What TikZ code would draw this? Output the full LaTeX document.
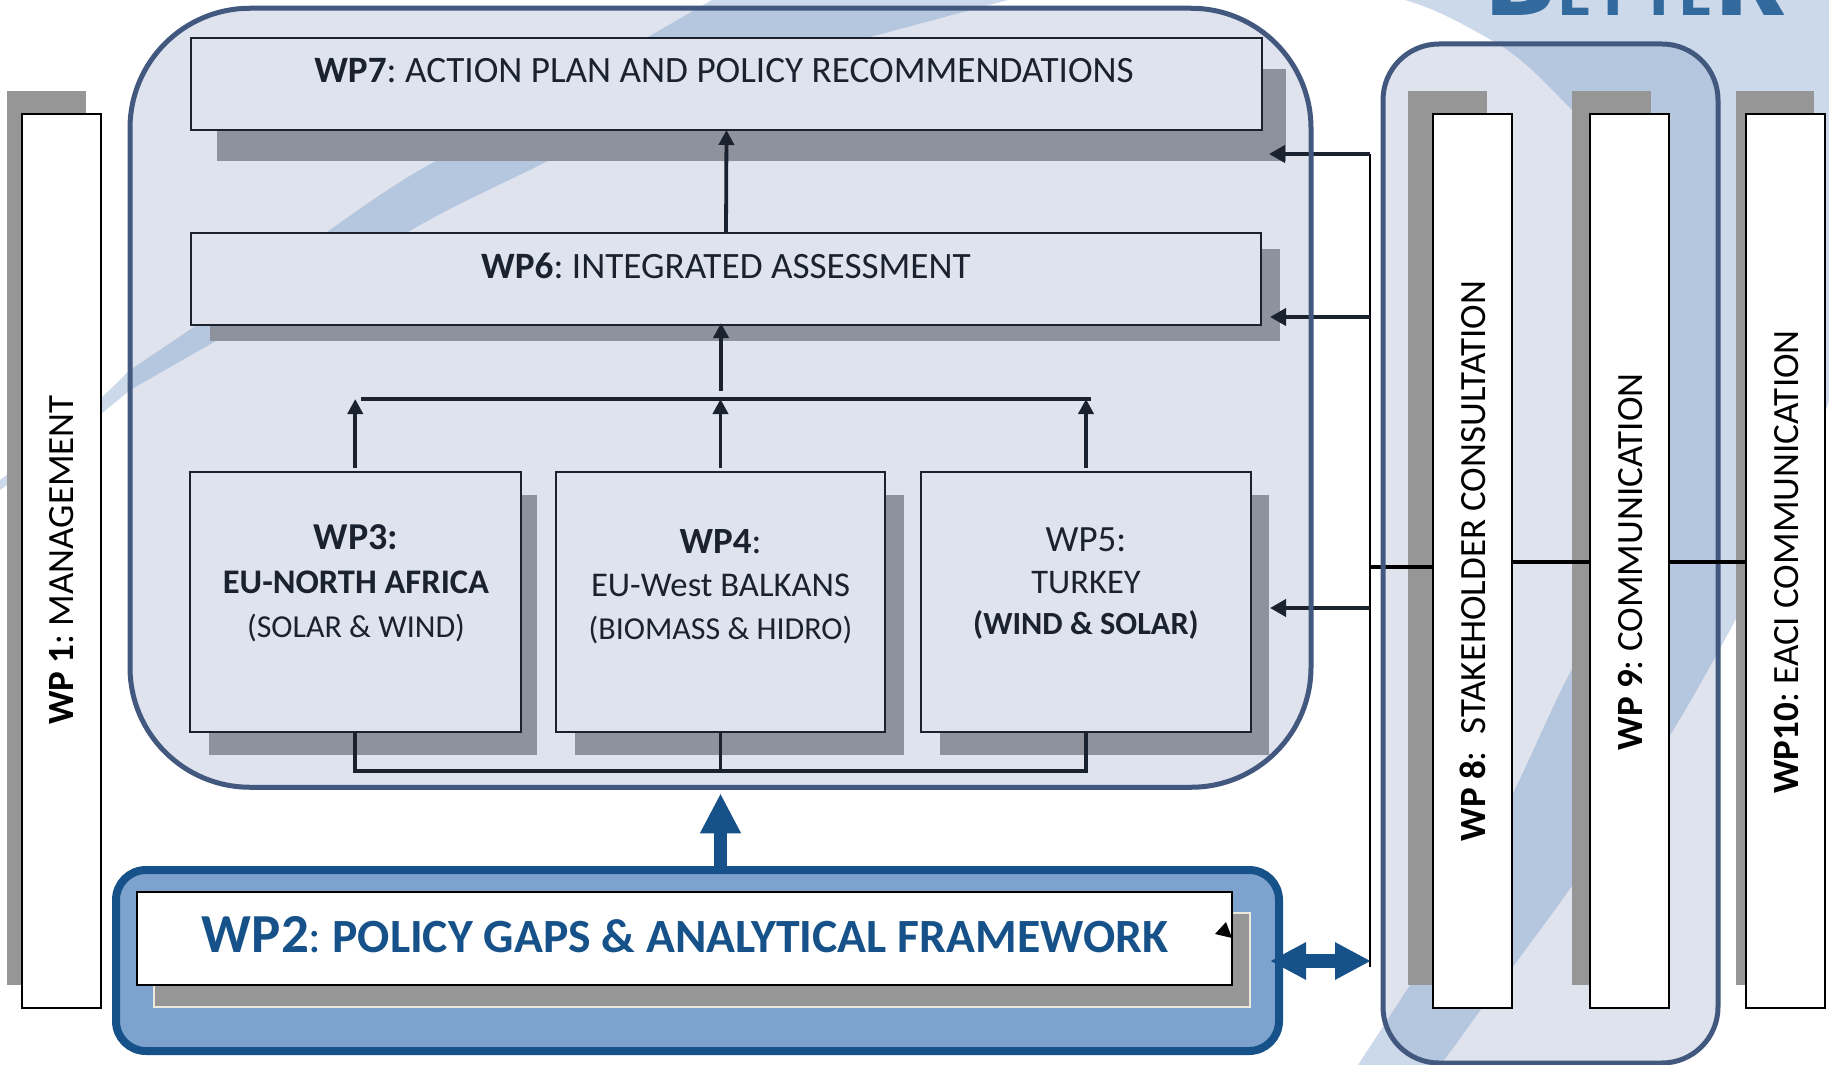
\documentclass[tikz,border=0pt]{standalone}
\usepackage{fontspec}
\setmainfont{Carlito}
\newfontfamily\logofont{Fira Sans}
\usetikzlibrary{arrows.meta}
\definecolor{bgl}{HTML}{CCD9EA}
\definecolor{bgd}{HTML}{B5C6DF}
\definecolor{panel}{HTML}{DFE3EE}
\definecolor{rim}{HTML}{43587F}
\definecolor{shadowcol}{HTML}{8E929C}
\definecolor{graysh}{HTML}{969696}
\definecolor{ink}{HTML}{1A2230}
\definecolor{navy}{HTML}{165289}
\definecolor{wpfill}{HTML}{7EA2CE}
\definecolor{logoc}{HTML}{336A9E}
\newcommand{\fs}[2]{\fontsize{#1}{#2}\selectfont}
\tikzset{
  x=1pt,y=-1pt,
  every node/.style={inner sep=0pt,outer sep=0pt},
  panelbox/.style={draw=ink,line width=2pt,fill=panel},
  whitebox/.style={draw=black,line width=2pt,fill=white},
  conn/.style={draw=ink,line width=3.8pt},
  arr/.style={conn,-{Triangle[length=15pt,width=15pt]}},
  blk/.style={draw=black,line width=3.5pt},
  blkarr/.style={blk,-{Triangle[length=16pt,width=17pt]},draw=ink,line width=3.8pt},
  inktext/.style={text=ink,align=center},
  vtext/.style={text=black,rotate=90},
}
\begin{document}
\frenchspacing
\begin{tikzpicture}
\useasboundingbox (0,0) rectangle (1829,1065);
\fill[white] (0,0) rectangle (1829,1065);
% background shapes, light
\def\bandpath{(0,480) .. controls (50,445) and (90,410) .. (130,370) -- (194,327) .. controls (240,295) and (285,262) .. (327,232) .. controls (365,205) and (400,180) .. (436,161) -- (648,37) -- (712,0) -- (1008,0) -- (870,37) .. controls (760,78) and (650,110) .. (548,161) .. controls (500,185) and (450,207) .. (408,232) -- (214,342) -- (130,390) .. controls (85,428) and (40,462) .. (0,490) -- cycle}
\def\cresc{(1405,0) .. controls (1440,10) and (1470,28) .. (1503,47) .. controls (1530,65) and (1550,88) .. (1572,110) .. controls (1620,170) and (1650,290) .. (1645,390) .. controls (1640,480) and (1610,590) .. (1572,669) .. controls (1550,710) and (1530,760) .. (1512,795) .. controls (1480,860) and (1440,920) .. (1410,985) -- (1358,1065) -- (1440,1065) .. controls (1460,1040) and (1490,995) .. (1512,968) .. controls (1540,930) and (1555,910) .. (1572,886) .. controls (1610,830) and (1640,785) .. (1669,737) .. controls (1695,695) and (1725,640) .. (1747,598) .. controls (1775,550) and (1805,480) .. (1829,400) -- (1829,0) -- cycle}
\fill[bgl] \bandpath;
\fill[bgl] \cresc;
% logo
\begin{scope}
\clip (0,0) rectangle (1829,1065);
\node[anchor=base west,text=logoc] (logo) at (1485,16) {\logofont\bfseries\fs{112}{112}B\hspace{4pt}\fs{62}{62}E\hspace{6pt}T\hspace{12pt}T\hspace{4pt}E\hspace{3pt}\fs{112}{112}R};
\end{scope}
% container panels
\node[fill=panel,rounded corners=120pt,minimum width=1181pt,minimum height=779pt] (main) at (720.5,397.75) {};
\node[fill=panel,rounded corners=56pt,minimum width=335pt,minimum height=1019pt] (right) at (1550.5,553.5) {};
\begin{scope}
\clip[rounded corners=120pt] (130,8.5) rectangle (1311,787);
\fill[bgd] \bandpath;
\end{scope}
\begin{scope}
\clip[rounded corners=56pt] (1383,44) rectangle (1718,1063);
\fill[bgd] \cresc;
\end{scope}
% shadows
\fill[shadowcol] (217,69) rectangle (1286,161);
\fill[shadowcol] (210,249) rectangle (1280,341);
\fill[shadowcol] (209,495) rectangle (537,755);
\fill[shadowcol] (575,495) rectangle (904,755);
\fill[shadowcol] (940,495) rectangle (1269,755);
\fill[graysh] (7,91) rectangle (86,985);
\fill[graysh] (1408,91) rectangle (1487,985);
\fill[graysh] (1572,91) rectangle (1651,985);
\fill[graysh] (1736,91) rectangle (1814,985);
% WP boxes
\node[panelbox,minimum width=1071pt,minimum height=92pt] (wp7) at (726.5,84) {};
\node[panelbox,minimum width=1070pt,minimum height=92pt] (wp6) at (726,279) {};
\node[panelbox,minimum width=330.5pt,minimum height=260pt] (wp3) at (355.25,602) {};
\node[panelbox,minimum width=329pt,minimum height=260pt] (wp4) at (720.5,602) {};
\node[panelbox,minimum width=330pt,minimum height=260pt] (wp5) at (1086,602) {};
\node[whitebox,minimum width=79pt,minimum height=894pt] (wp1) at (61.5,561) {};
\node[whitebox,minimum width=79pt,minimum height=894pt] (wp8) at (1472.5,561) {};
\node[whitebox,minimum width=79pt,minimum height=894pt] (wp9) at (1629.5,561) {};
\node[whitebox,minimum width=79pt,minimum height=894pt] (wp10) at (1785.5,561) {};
% WP2
\node[draw=navy,line width=8pt,fill=wpfill,rounded corners=30pt,minimum width=1163pt,minimum height=181pt] (wp2o) at (697.5,960.5) {};
\fill[graysh,draw={rgb,255:red,236;green,232;blue,220},line width=1.5pt] (154,913) rectangle (1250,1007);
\node[whitebox,minimum width=1095pt,minimum height=93pt] (wp2) at (684.5,938.5) {};
\fill[black] (1226,922) -- (1215,934) -- (1232,938) -- cycle;
% connectors inside the panel
\coordinate (busL) at (361,399);
\coordinate (busR) at (1091,399);
\coordinate (busM) at (721,399);
\coordinate (busB) at (720.5,771);
\draw[arr] (wp6.north) -- ([yshift=0pt]wp7.south);
\draw[conn] (busL) -- (busR);
\draw[arr] ([yshift=8pt]busM) -- ([yshift=2pt]busM |- wp6.south);
\draw[arr] ([yshift=4pt]wp3.north) -- (wp3.north |- busL);
\draw[arr] ([yshift=4pt]wp4.north) -- (wp4.north |- busL);
\draw[arr] ([yshift=4pt]wp5.north) -- (wp5.north |- busL);
\draw[conn] (wp3.south) |- (busB) -| (wp5.south);
\draw[conn] (wp4.south) -- (busB);
% right-hand connectors
\coordinate (vtop) at (1370,154);
\coordinate (vbot) at (1370,967);
\coordinate (j6) at (1370,317);
\coordinate (j5) at (1370,608);
\coordinate (j8) at (1370,567);
\draw[draw=black,line width=2pt] (vtop) -- (vbot);
\draw[blkarr] (vtop) -- ([xshift=7pt]wp7.east |- vtop);
\draw[blkarr] (j6) -- ([xshift=9pt]wp6.east |- j6);
\draw[blkarr] (j5) -- ([xshift=19pt]wp5.east |- j5);
\draw[blk] (j8) -- (wp8.west |- j8);
% panel rims over the lines
\draw[rim,line width=5pt,rounded corners=120pt] (main.south west) rectangle (main.north east);
\draw[rim,line width=5pt,rounded corners=56pt] (right.south west) rectangle (right.north east);
\draw[blk] ([yshift=-1pt]wp8.east) -- ([yshift=-1pt]wp9.west);
\draw[blk] ([yshift=-1pt]wp9.east) -- ([yshift=-1pt]wp10.west);
% thick arrows
\draw[navy,line width=13pt,-{Triangle[length=40pt,width=38pt]}] (main.south |- wp2o.north) -- ([yshift=-6pt]main.south);
\coordinate (dbl) at (1371,961);
\draw[navy,line width=14pt,{Triangle[length=36pt,width=35pt]}-{Triangle[length=36pt,width=35pt]}] ([xshift=-9pt,yshift=-0.5pt]wp2o.east) -- (dbl);
% texts
\node[inktext,font={\fs{37.2}{40}}] (t7) at (724,71) {\textbf{WP7}: ACTION PLAN AND POLICY RECOMMENDATIONS};
\node[inktext,font={\fs{37.2}{40}}] (t6) at (726,266) {\textbf{WP6}: INTEGRATED ASSESSMENT};
\node[inktext,font={\fs{33}{44}}] (t3) at (356,583) {\fs{38}{44}\textbf{WP3:}\\\fs{34.5}{44}\textbf{EU-NORTH AFRICA}\\\fs{32}{44}(SOLAR \& WIND)};
\node[inktext,font={\fs{33}{43}}] (t4) at (720.5,587) {\fs{37}{43}\textbf{WP4}:\\\fs{34.7}{43}EU-West BALKANS\\\fs{32}{43}(BIOMASS \& HIDRO)};
\node[inktext,font={\fs{33}{41.5}}] (t5) at (1086,584) {\fs{37}{41.5}WP5:\\\fs{34.5}{41.5}TURKEY\\\fs{32.3}{41.5}\textbf{(WIND \& SOLAR)}};
\node[text=navy,anchor=base] (t2) at (685,952) {\bfseries{\fs{55}{56}WP2}\fs{47.7}{56}{\mdseries:} POLICY GAPS \& ANALYTICAL FRAMEWORK};
\node[vtext,font={\fs{37}{40}}] (t1v) at (62,560) {\textbf{WP 1}: MANAGEMENT};
\node[vtext,font={\fs{37}{40}}] (t8v) at (1473,561) {\textbf{WP 8}:~~STAKEHOLDER CONSULTATION};
\node[vtext,font={\fs{37}{40}}] (t9v) at (1630,562) {\textbf{WP 9}: COMMUNICATION};
\node[vtext,font={\fs{37}{40}}] (t10v) at (1786,562) {\textbf{WP10}: EACI COMMUNICATION};
\end{tikzpicture}
\end{document}
